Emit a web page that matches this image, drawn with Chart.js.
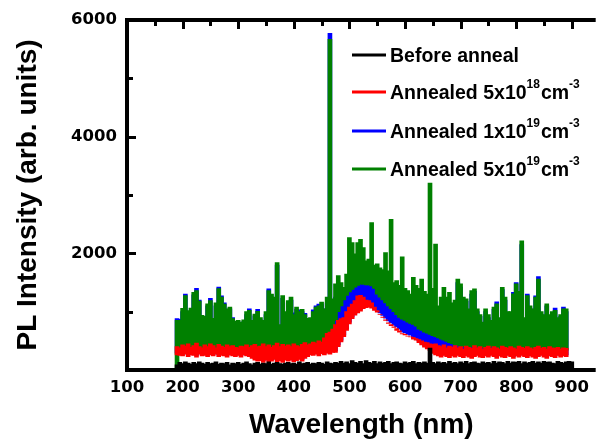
<!DOCTYPE html>
<html><head><meta charset="utf-8">
<script src="https://cdn.jsdelivr.net/npm/chart.js@4.4.0/dist/chart.umd.min.js"></script>
<style>html,body{margin:0;padding:0;background:#fff;}#c{display:block;}</style>
</head><body>
<canvas id="c" width="597" height="442"></canvas>
<script>
// Wavelength samples (nm)
const wavelength = [
190,195,200,205,210,215,220,225,230,235,
240,245,250,255,260,265,270,275,280,285,
290,295,300,305,310,315,320,325,330,335,
340,345,350,355,360,365,370,375,380,385,
390,395,400,405,410,415,420,425,430,435,
440,445,450,455,460,465,470,475,480,485,
490,495,500,505,510,515,520,525,530,535,
540,545,550,555,560,565,570,575,580,585,
590,595,600,605,610,615,620,625,630,635,
640,645,650,655,660,665,670,675,680,685,
690,695,700,705,710,715,720,725,730,735,
740,745,750,755,760,765,770,775,780,785,
790,795,800,805,810,815,820,825,830,835,
840,845,850,855,860,865,870,875,880,885,
890,895,900];

// Before anneal (upper envelope of noisy trace)
const blackHi = [
90,130,110,140,120,100,130,110,140,120,
100,130,110,120,140,100,120,110,130,90,
120,110,130,100,120,140,110,90,120,130,
100,120,110,140,100,120,130,110,100,120,
130,110,120,100,140,110,120,130,100,120,
110,130,120,100,140,120,110,130,120,150,
120,140,110,160,130,120,150,110,160,130,
120,150,110,140,120,130,150,110,130,140,
120,110,140,120,130,150,110,130,120,140,
120,375,130,110,140,120,130,110,150,120,
130,110,140,120,150,110,130,140,120,110,
140,120,130,110,150,120,140,130,110,150,
120,140,130,150,110,140,120,130,150,120,
140,120,150,130,140,120,110,150,130,120,
140,150,140];

// Annealed 5x10^18 (lower / upper envelope)
const redLo = [
260,250,240,270,230,260,250,220,270,240,
250,230,260,240,270,230,250,240,220,260,
240,230,250,220,260,240,230,200,170,150,
160,130,170,140,150,180,140,160,130,170,
150,170,140,160,180,150,200,230,260,250,
270,240,280,260,290,270,300,300,400,480,
570,680,790,880,940,980,1010,1050,1070,1078,
1060,1020,990,950,907,860,810,780,740,709,
670,624,610,580,567,530,511,470,430,390,
360,330,284,260,240,220,250,230,210,240,
220,250,230,210,240,220,200,230,250,220,
210,240,220,250,230,200,240,220,210,250,
230,200,240,220,250,230,210,240,220,200,
230,250,220,200,240,230,210,250,220,240,
230,null,null];
const redHi = [
400,380,430,410,450,390,420,460,400,380,
430,400,450,420,380,440,410,390,430,400,
420,390,380,410,400,430,390,420,440,400,
410,450,400,430,390,420,460,400,440,410,
430,400,450,420,400,440,470,430,450,480,
460,500,480,550,630,650,700,780,850,880,
900,1000,1080,1130,1190,1270,1280,1250,1200,1190,
1150,1080,1020,950,900,850,800,760,730,680,
650,620,600,580,570,560,540,520,500,480,
470,450,440,450,420,400,430,380,410,390,
420,380,400,360,410,390,370,420,380,400,
360,390,410,370,400,380,360,410,390,370,
400,380,360,410,390,370,400,380,360,390,
410,370,390,360,400,380,370,390,360,380,
370,null,null];

// Annealed 1x10^19 (lower / upper envelope)
const blueLo = [
290,280,270,300,260,290,280,250,300,270,
280,260,290,270,300,260,280,270,250,290,
270,260,280,250,290,270,260,230,200,180,
190,160,200,170,180,210,170,190,160,200,
180,200,170,190,210,180,230,260,290,280,
300,270,310,290,320,300,330,330,430,510,
600,710,820,910,970,1010,1040,1080,1100,1108,
1090,1050,1020,980,937,890,840,810,770,739,
700,654,640,610,597,560,541,500,460,420,
390,360,314,290,270,250,280,260,240,270,
250,280,260,240,270,250,230,260,280,250,
240,270,250,280,260,230,270,250,240,280,
260,230,270,250,280,260,240,270,250,230,
260,280,250,230,270,260,240,280,250,270,
260,null,null];
const blueHi = [
880,870,1000,1300,980,1000,1290,1400,1200,900,
880,1100,1230,850,1100,1420,1270,1150,1000,1050,
900,800,820,800,830,950,1050,820,930,1040,
860,800,950,1390,1250,1200,1800,760,1230,980,
1150,1200,980,1040,1030,1000,970,850,880,1030,
1100,1130,1120,1050,1150,5770,1150,1250,1100,1200,
1300,1350,1400,1430,1470,1500,1520,1520,1510,1510,
1490,1450,1350,1300,1250,1200,1150,1100,1050,1000,
950,920,900,870,850,830,800,750,730,700,
680,660,640,620,600,580,560,540,520,500,
1150,1500,1420,1200,1180,1020,1300,1350,1000,920,
800,1000,900,820,1040,1170,860,1380,1200,960,
970,1330,1500,1300,2150,880,1300,1060,1000,1270,
1600,960,920,1100,930,970,1060,870,920,1080,
1000,null,null];

// Annealed 5x10^19 (lower / upper envelope)
const greenLo = [
0,340,360,330,370,350,340,380,350,330,
360,340,370,350,330,360,340,370,350,340,
360,330,350,370,340,360,330,350,370,340,
350,360,330,370,350,340,360,330,350,370,
340,360,350,330,370,350,360,380,370,400,
420,440,460,500,560,600,700,850,1000,1100,
1200,1280,1340,1380,1420,1450,1470,1470,1460,1460,
1440,1400,1300,1250,1200,1150,1100,1050,1000,950,
900,870,850,820,800,780,750,700,680,650,
630,610,590,570,550,530,510,490,470,450,
430,420,410,400,400,390,400,380,390,400,
380,390,370,400,380,390,370,380,390,370,
380,360,370,390,360,370,380,350,370,360,
350,370,340,360,350,340,360,350,340,330,
340,null,null];
const greenHi = [
851,850,1055,1277,1020,1060,1333,1362,1180,936,
920,1135,1191,885,1150,1396,1248,1130,1050,1078,
880,840,850,823,860,1000,1021,850,960,1005,
900,850,1000,1362,1300,1250,1843,780,1277,1000,
1191,1248,950,1078,1000,1040,950,885,900,1000,
1078,1100,1163,1050,1250,5668,1220,1475,1617,1500,
1418,1645,2269,2184,1990,2184,2241,2100,1872,1900,
2525,1800,1820,1750,1720,2014,1700,2581,1500,1532,
1450,1940,1400,1362,1300,1588,1450,1400,1560,1350,
1300,3205,1400,2156,1100,1248,1418,1250,1333,1150,
1200,1560,1475,1250,1220,1050,1362,1390,1050,950,
822,1050,950,850,1078,1135,900,1418,1250,1000,
1000,1305,1475,1350,2213,900,1277,1100,1050,1248,
1560,1000,950,1135,950,1000,1021,900,950,1050,
1050,null,null];

const xTicks = [100,200,300,400,500,600,700,800,900];
const xFrameTicks = [150,200,250,300,350,400,450,500,550,600,650,700,750,800,850,900];
const yTicks = [2000,4000,6000];
const yFrameTicks = [1000,2000,3000,4000,5000];

const legendItems = [
  {color:'#000000', parts:[['Before anneal',0]]},
  {color:'#ff0000', parts:[['Annealed 5x10',0],['18',1],['cm',0],['-3',1]]},
  {color:'#0000ff', parts:[['Annealed 1x10',0],['19',1],['cm',0],['-3',1]]},
  {color:'#008000', parts:[['Annealed 5x10',0],['19',1],['cm',0],['-3',1]]}
];

function toBars(lo, hi){
  const out = [];
  wavelength.forEach((w,i)=>{
    if (hi[i] === null || hi[i] === undefined) return;
    out.push({x:w, y:[lo ? lo[i] : 0, hi[i]]});
  });
  return out;
}

const barCommon = {grouped:false, barThickness:4, borderWidth:0, borderSkipped:false};

const framePlugin = {
  id:'frame',
  afterDraw(chart){
    const {ctx, chartArea:a} = chart;
    const x = chart.scales.x, y = chart.scales.y;
    ctx.save();
    ctx.strokeStyle = '#000';
    ctx.lineCap = 'butt';
    ctx.lineWidth = 4;
    ctx.beginPath();
    ctx.moveTo(a.left-2, a.top); ctx.lineTo(a.right, a.top);
    ctx.moveTo(a.left, a.top); ctx.lineTo(a.left, a.bottom+2);
    ctx.moveTo(a.left-2, a.bottom); ctx.lineTo(a.right, a.bottom);
    ctx.stroke();
    ctx.lineWidth = 3;
    ctx.beginPath();
    xFrameTicks.forEach(v=>{
      const px = Math.round(x.getPixelForValue(v)) + 0.5;
      const len = (v % 100 === 0) ? 9 : 6;
      ctx.moveTo(px, a.top); ctx.lineTo(px, a.top + len);
    });
    yFrameTicks.forEach(v=>{
      const py = Math.round(y.getPixelForValue(v)) + 0.5;
      const len = (v % 2000 === 0) ? 9 : 6;
      ctx.moveTo(a.left, py); ctx.lineTo(a.left + len, py);
    });
    ctx.stroke();

    // legend
    const rows = [55, 92, 131, 169];
    legendItems.forEach((it, k)=>{
      const ry = rows[k];
      ctx.strokeStyle = it.color;
      ctx.lineWidth = 3;
      ctx.beginPath();
      ctx.moveTo(352, ry); ctx.lineTo(386, ry);
      ctx.stroke();
      let tx = 390;
      ctx.fillStyle = '#000';
      ctx.textBaseline = 'alphabetic';
      ctx.textAlign = 'left';
      it.parts.forEach(([t, sup])=>{
        if (sup) {
          ctx.font = 'bold 12px "Liberation Sans", Arial, sans-serif';
          ctx.fillText(t, tx, ry - 4);
        } else {
          ctx.font = 'bold 19.5px "Liberation Sans", Arial, sans-serif';
          ctx.fillText(t, tx, ry + 7);
        }
        tx += ctx.measureText(t).width + (sup ? 1 : 0);
      });
    });
    ctx.restore();
  }
};

const tickFont = {family:'"DejaVu Sans", sans-serif', size:16.5, weight:'bold'};
const titleFont = {family:'"Liberation Sans", Arial, sans-serif', size:28, weight:'bold'};

new Chart(document.getElementById('c'), {
  type:'bar',
  data:{
    datasets:[
      Object.assign({label:'Before anneal', data:toBars(null, blackHi), backgroundColor:'#000000'}, barCommon),
      Object.assign({label:'Annealed 5x10^18 cm^-3', data:toBars(redLo, redHi), backgroundColor:'#ff0000'}, barCommon),
      Object.assign({label:'Annealed 5x10^19 cm^-3', data:toBars(greenLo, greenHi), backgroundColor:'#008000'}, barCommon),
      Object.assign({label:'Annealed 1x10^19 cm^-3', data:toBars(blueLo, blueHi), backgroundColor:'#0000ff'}, barCommon)
    ]
  },
  options:{
    responsive:false,
    devicePixelRatio:1,
    animation:false,
    layout:{padding:{top:17, right:0, left:0, bottom:0}},
    plugins:{legend:{display:false}, tooltip:{enabled:false}},
    scales:{
      x:{
        type:'linear', min:100, max:943, offset:false,
        grid:{display:false, drawTicks:false},
        border:{display:false},
        ticks:{font:tickFont, color:'#000', padding:8, maxRotation:0, autoSkip:false, callback:(v)=>String(v)},
        afterBuildTicks:(s)=>{ s.ticks = xTicks.map(v=>({value:v})); },
        afterFit:(s)=>{ s.height = 72; },
        title:{display:true, text:'Wavelength (nm)', font:titleFont, color:'#000', padding:{top:0, bottom:0}}
      },
      y:{
        type:'linear', min:0, max:6000,
        grid:{display:false, drawTicks:false},
        border:{display:false},
        ticks:{font:tickFont, color:'#000', padding:10, callback:(v)=>String(v)},
        afterBuildTicks:(s)=>{ s.ticks = yTicks.map(v=>({value:v})); },
        afterFit:(s)=>{ s.width = 127; },
        title:{display:true, text:'PL Intensity (arb. units)', font:titleFont, color:'#000', padding:{top:11, bottom:0}}
      }
    }
  },
  plugins:[framePlugin]
});
</script>
</body></html>
